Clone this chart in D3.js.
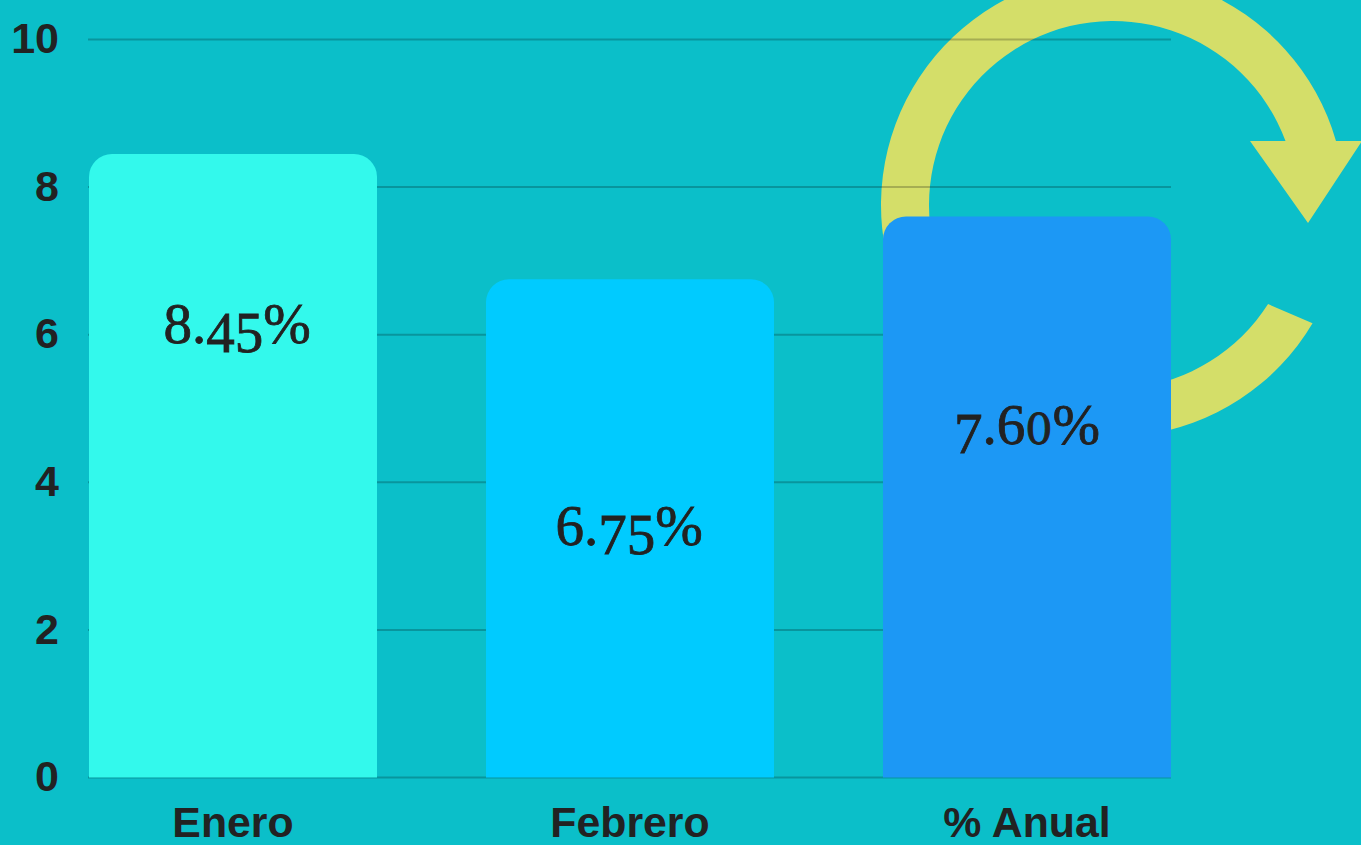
<!DOCTYPE html>
<html>
<head>
<meta charset="utf-8">
<script src="https://cdn.jsdelivr.net/npm/d3@7"></script>
<style>
  html, body { margin: 0; padding: 0; background: #0bbfc9; overflow: hidden; }
  svg { display: block; }
  .axis text { font-family: "Liberation Sans", sans-serif; font-weight: bold; fill: #222; }
  .axis .domain { display: none; }
  .val { font-family: "Liberation Serif", serif; fill: #222; font-size: 57px; stroke: #222; stroke-width: .8px; }
</style>
</head>
<body>
<svg width="1361" height="845"></svg>
<script>
// @ data
const categories = ["Enero", "Febrero", "% Anual"];
const values = [8.45, 6.75, 7.6];
const valueLabels = ["8.45%", "6.75%", "7.60%"];
const yTicks = [0, 2, 4, 6, 8, 10];

const barColors = ["#33f9ec", "#00cbff", "#1c98f5"];
// baseline of the text inside each bar, the labels were placed by hand
const labelBaselines = [343, 545, 444];
// old style figures: these hang under the baseline, 0 is x-height
const hanging = "3457";

const svg = d3.select("svg");
const x = d3.scaleBand().domain(categories).range([89, 1171]).paddingInner(0.2745).paddingOuter(0);
const y = d3.scaleLinear().domain([0, 10]).range([777.5, 39.5]);

// ======= RECYCLE ARROW (sits behind the grid) =======
const cx = 1113, cy = 205, rIn = 184, rOut = 232;
const arrow = d3.path();
arrow.arc(cx, cy, rOut, Math.atan2(118, 199), Math.atan2(-64, 223));
arrow.lineTo(1362, 141);
arrow.lineTo(1308, 223);
arrow.lineTo(1250, 141);
arrow.lineTo(1285.5, 141);
arrow.arc(cx, cy, rIn, Math.atan2(-64, 172.5), Math.atan2(99, 155), true);
arrow.closePath();
svg.append("path").attr("d", arrow.toString()).attr("fill", "#d4de69");

// ======= AXES =======
const gridG = svg.append("g").attr("class", "axis")
  .attr("transform", "translate(88,0)")
  .call(d3.axisLeft(y).tickValues(yTicks).tickSize(-1083).tickPadding(29).offset(0));
gridG.selectAll("line").attr("stroke", "#000").attr("stroke-opacity", 0.22).attr("stroke-width", 2);
gridG.selectAll("text").attr("font-size", 43).attr("dy", "0.32em");

// ======= BARS =======
function barPath(d, i) {
  const x0 = x(categories[i]), w = x.bandwidth(), top = y(d), base = y(0), r = 23;
  const p = d3.path();
  p.moveTo(x0, base);
  p.lineTo(x0, top + r);
  p.arcTo(x0, top, x0 + r, top, r);
  p.lineTo(x0 + w - r, top);
  p.arcTo(x0 + w, top, x0 + w, top + r, r);
  p.lineTo(x0 + w, base);
  p.closePath();
  return p.toString();
}
svg.selectAll(".bar").data(values).enter().append("path")
  .attr("class", "bar")
  .attr("d", barPath)
  .attr("fill", (d, i) => barColors[i]);

// ======= LABELS =======
const labels = svg.selectAll(".val").data(valueLabels).enter().append("text")
  .attr("class", "val")
  .attr("text-anchor", "middle")
  .attr("x", (d, i) => x(categories[i]) + x.bandwidth() / 2 + [4, -1, 0][i])
  .attr("y", (d, i) => labelBaselines[i]);
labels.each(function (d) {
  const t = d3.select(this);
  let shift = 0;
  d.split("").forEach(c => {
    const want = hanging.includes(c) ? 9 : 0;
    const ts = t.append("tspan").attr("dy", want - shift).text(c);
    if (c === "0") ts.attr("font-size", 43).style("font-family", '"DejaVu Serif", serif');
    shift = want;
  });
});

// ======= CATEGORY LABELS =======
const xG = svg.append("g").attr("class", "axis")
  .attr("transform", "translate(0,778)")
  .call(d3.axisBottom(x).tickSize(0).tickPadding(29));
xG.selectAll("text").attr("font-size", 42.8);
</script>
</body>
</html>
